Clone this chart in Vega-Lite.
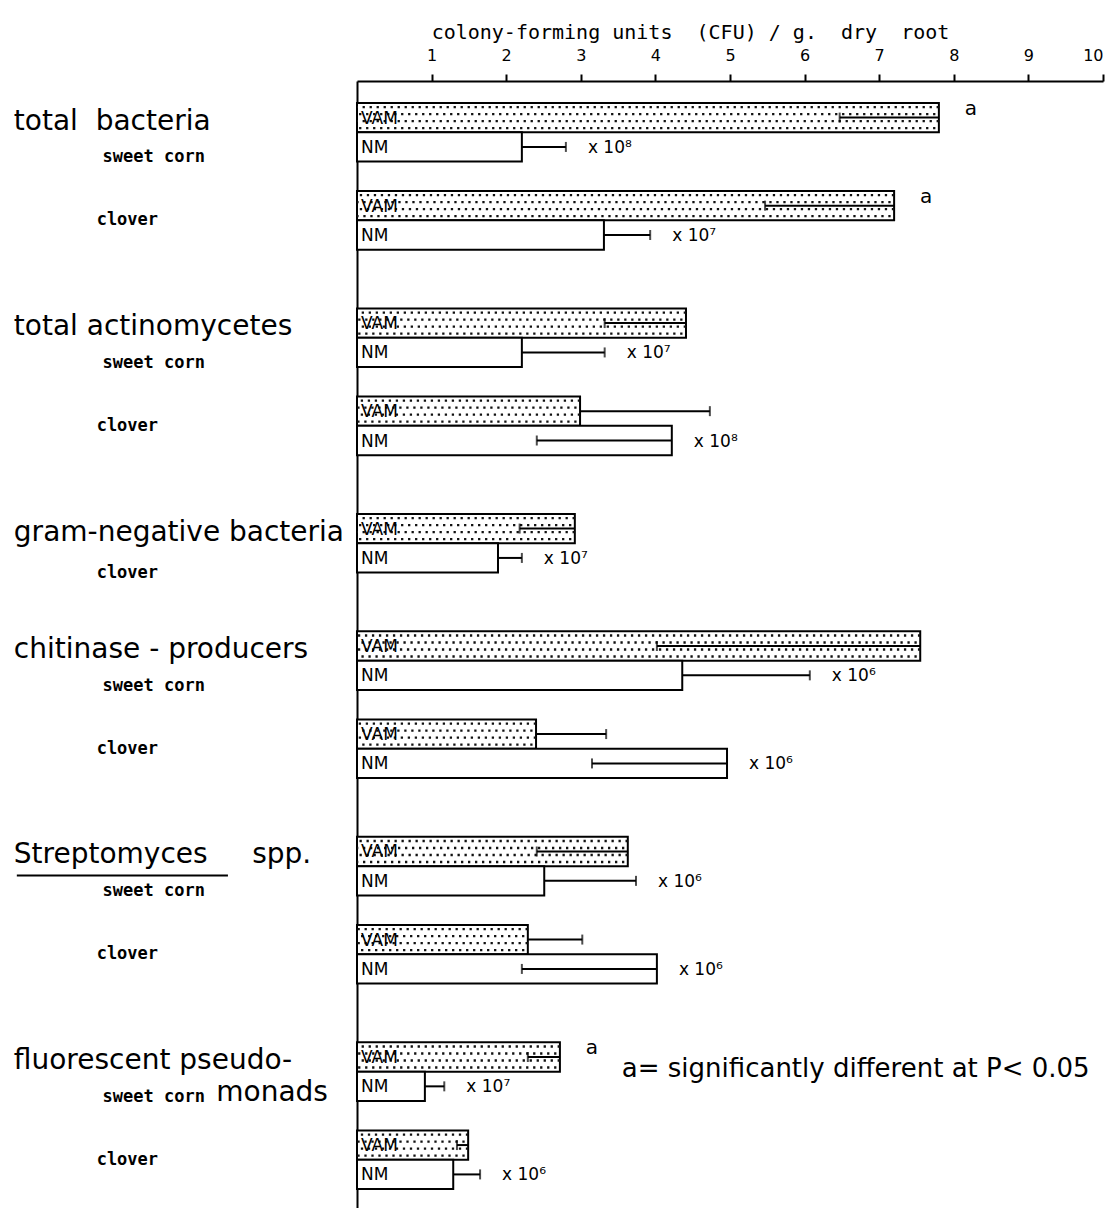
{
  "$schema": "https://vega.github.io/schema/vega-lite/v6.json",
  "width": 746,
  "height": 1130,
  "autosize": {"type": "none"},
  "padding": {"left": 357, "top": 81, "right": 12, "bottom": 0},
  "background": "white",
  "config": {"view": {"stroke": null}, "font": "DejaVu Sans", "text": {"color": "black"}},
  "datasets": {
    "bars": [
      {"key": "TB-SC-VAM", "group": "total bacteria", "crop": "sweet corn", "treatment": "VAM", "value": 7.8, "err": 6.47, "sig": "a", "mult": ""},
      {"key": "TB-SC-NM", "group": "total bacteria", "crop": "sweet corn", "treatment": "NM", "value": 2.21, "err": 2.8, "sig": "", "mult": "x 10⁸"},
      {"key": "TB-CL-VAM", "group": "total bacteria", "crop": "clover", "treatment": "VAM", "value": 7.2, "err": 5.47, "sig": "a", "mult": ""},
      {"key": "TB-CL-NM", "group": "total bacteria", "crop": "clover", "treatment": "NM", "value": 3.31, "err": 3.93, "sig": "", "mult": "x 10⁷"},
      {"key": "TA-SC-VAM", "group": "total actinomycetes", "crop": "sweet corn", "treatment": "VAM", "value": 4.41, "err": 3.32, "sig": "", "mult": ""},
      {"key": "TA-SC-NM", "group": "total actinomycetes", "crop": "sweet corn", "treatment": "NM", "value": 2.21, "err": 3.32, "sig": "", "mult": "x 10⁷"},
      {"key": "TA-CL-VAM", "group": "total actinomycetes", "crop": "clover", "treatment": "VAM", "value": 2.99, "err": 4.73, "sig": "", "mult": ""},
      {"key": "TA-CL-NM", "group": "total actinomycetes", "crop": "clover", "treatment": "NM", "value": 4.22, "err": 2.41, "sig": "", "mult": "x 10⁸"},
      {"key": "GN-CL-VAM", "group": "gram-negative bacteria", "crop": "clover", "treatment": "VAM", "value": 2.92, "err": 2.18, "sig": "", "mult": ""},
      {"key": "GN-CL-NM", "group": "gram-negative bacteria", "crop": "clover", "treatment": "NM", "value": 1.89, "err": 2.21, "sig": "", "mult": "x 10⁷"},
      {"key": "CH-SC-VAM", "group": "chitinase-producers", "crop": "sweet corn", "treatment": "VAM", "value": 7.55, "err": 4.02, "sig": "", "mult": ""},
      {"key": "CH-SC-NM", "group": "chitinase-producers", "crop": "sweet corn", "treatment": "NM", "value": 4.36, "err": 6.07, "sig": "", "mult": "x 10⁶"},
      {"key": "CH-CL-VAM", "group": "chitinase-producers", "crop": "clover", "treatment": "VAM", "value": 2.4, "err": 3.34, "sig": "", "mult": ""},
      {"key": "CH-CL-NM", "group": "chitinase-producers", "crop": "clover", "treatment": "NM", "value": 4.96, "err": 3.15, "sig": "", "mult": "x 10⁶"},
      {"key": "ST-SC-VAM", "group": "Streptomyces spp.", "crop": "sweet corn", "treatment": "VAM", "value": 3.63, "err": 2.41, "sig": "", "mult": ""},
      {"key": "ST-SC-NM", "group": "Streptomyces spp.", "crop": "sweet corn", "treatment": "NM", "value": 2.51, "err": 3.74, "sig": "", "mult": "x 10⁶"},
      {"key": "ST-CL-VAM", "group": "Streptomyces spp.", "crop": "clover", "treatment": "VAM", "value": 2.29, "err": 3.02, "sig": "", "mult": ""},
      {"key": "ST-CL-NM", "group": "Streptomyces spp.", "crop": "clover", "treatment": "NM", "value": 4.02, "err": 2.21, "sig": "", "mult": "x 10⁶"},
      {"key": "FP-SC-VAM", "group": "fluorescent pseudomonads", "crop": "sweet corn", "treatment": "VAM", "value": 2.72, "err": 2.29, "sig": "a", "mult": ""},
      {"key": "FP-SC-NM", "group": "fluorescent pseudomonads", "crop": "sweet corn", "treatment": "NM", "value": 0.91, "err": 1.17, "sig": "", "mult": "x 10⁷"},
      {"key": "FP-CL-VAM", "group": "fluorescent pseudomonads", "crop": "clover", "treatment": "VAM", "value": 1.49, "err": 1.34, "sig": "", "mult": ""},
      {"key": "FP-CL-NM", "group": "fluorescent pseudomonads", "crop": "clover", "treatment": "NM", "value": 1.29, "err": 1.65, "sig": "", "mult": "x 10⁶"}
    ],
    "groups": [
      {"text": "total\u00a0 bacteria", "key": "TB-SC-VAM"},
      {"text": "total actinomycetes", "key": "TA-SC-VAM"},
      {"text": "gram-negative bacteria", "key": "GN-CL-VAM"},
      {"text": "chitinase - producers", "key": "CH-SC-VAM"},
      {"text": "Streptomyces\u00a0\u00a0\u00a0\u00a0 spp.", "key": "ST-SC-VAM"},
      {"text": "fluorescent pseudo-", "key": "FP-SC-VAM"},
      {"text": "monads", "key": "FP-SC-NM"}
    ],
    "crops": [
      {"text": "sweet corn", "key": "TB-SC-NM"},
      {"text": "clover", "key": "TB-CL-VAM"},
      {"text": "sweet corn", "key": "TA-SC-NM"},
      {"text": "clover", "key": "TA-CL-VAM"},
      {"text": "clover", "key": "GN-CL-NM"},
      {"text": "sweet corn", "key": "CH-SC-NM"},
      {"text": "clover", "key": "CH-CL-VAM"},
      {"text": "sweet corn", "key": "ST-SC-NM"},
      {"text": "clover", "key": "ST-CL-VAM"},
      {"text": "sweet corn", "key": "FP-SC-NM"},
      {"text": "clover", "key": "FP-CL-VAM"}
    ]
  },
  "layer": [
    {
      "data": {"name": "bars"},
      "mark": {"type": "bar", "fill": "white", "stroke": "black", "strokeWidth": 2},
      "encoding": {
        "y": {
          "field": "key", "type": "nominal",
          "scale": {
            "domain": ["TB-SC-VAM","TB-SC-NM","g1","TB-CL-VAM","TB-CL-NM","g2","g3","TA-SC-VAM","TA-SC-NM","g4","TA-CL-VAM","TA-CL-NM","g5","g6","GN-CL-VAM","GN-CL-NM","g7","g8","CH-SC-VAM","CH-SC-NM","g9","CH-CL-VAM","CH-CL-NM","g10","g11","ST-SC-VAM","ST-SC-NM","g12","ST-CL-VAM","ST-CL-NM","g13","g14","FP-SC-VAM","FP-SC-NM","g15","FP-CL-VAM","FP-CL-NM"],
            "paddingInner": 0, "paddingOuter": 0.746
          },
          "axis": {"orient": "left", "labels": false, "ticks": false, "title": null, "grid": false, "domain": true, "domainColor": "black", "domainWidth": 2}
        },
        "x": {
          "field": "value", "type": "quantitative",
          "scale": {"domain": [0, 10], "nice": false, "zero": true},
          "axis": {
            "orient": "top", "values": [1,2,3,4,5,6,7,8,9,10], "format": "d", "grid": false,
            "tickSize": 7, "tickWidth": 2, "tickColor": "black",
            "domainColor": "black", "domainWidth": 2,
            "labelFontSize": 16, "labelColor": "black", "labelPadding": 11, "labelFont": "DejaVu Sans",
            "title": "colony-forming units\u00a0\u00a0(CFU) / g.\u00a0\u00a0dry\u00a0\u00a0root",
            "titleFontSize": 20, "titleFontWeight": "normal", "titleColor": "black", "titleFont": "DejaVu Sans Mono",
            "titleX": 333, "titleY": -43, "titleAlign": "center", "titleBaseline": "alphabetic"
          }
        }
      }
    },
    {
      "data": {"name": "bars"},
      "transform": [{"filter": "datum.treatment == 'VAM'"}],
      "mark": {"type": "rule", "color": "#111", "strokeWidth": 2.3, "strokeDash": [2.3, 4.7], "yOffset": -10.5},
      "encoding": {"y": {"field": "key", "type": "nominal"}, "x": {"field": "value", "type": "quantitative"}, "x2": {"datum": 0}}
    },
    {
      "data": {"name": "bars"},
      "transform": [{"filter": "datum.treatment == 'VAM'"}],
      "mark": {"type": "rule", "color": "#111", "strokeWidth": 2.3, "strokeDash": [2.3, 4.7], "strokeDashOffset": 3.5, "yOffset": -3.5},
      "encoding": {"y": {"field": "key", "type": "nominal"}, "x": {"field": "value", "type": "quantitative"}, "x2": {"datum": 0}}
    },
    {
      "data": {"name": "bars"},
      "transform": [{"filter": "datum.treatment == 'VAM'"}],
      "mark": {"type": "rule", "color": "#111", "strokeWidth": 2.3, "strokeDash": [2.3, 4.7], "yOffset": 3.5},
      "encoding": {"y": {"field": "key", "type": "nominal"}, "x": {"field": "value", "type": "quantitative"}, "x2": {"datum": 0}}
    },
    {
      "data": {"name": "bars"},
      "transform": [{"filter": "datum.treatment == 'VAM'"}],
      "mark": {"type": "rule", "color": "#111", "strokeWidth": 2.3, "strokeDash": [2.3, 4.7], "strokeDashOffset": 3.5, "yOffset": 10.5},
      "encoding": {"y": {"field": "key", "type": "nominal"}, "x": {"field": "value", "type": "quantitative"}, "x2": {"datum": 0}}
    },
    {
      "data": {"name": "bars"},
      "mark": {"type": "rule", "color": "black", "strokeWidth": 2},
      "encoding": {"y": {"field": "key", "type": "nominal"}, "x": {"field": "value", "type": "quantitative"}, "x2": {"field": "err"}}
    },
    {
      "data": {"name": "bars"},
      "mark": {"type": "tick", "color": "black", "thickness": 2, "size": 10},
      "encoding": {"y": {"field": "key", "type": "nominal"}, "x": {"field": "err", "type": "quantitative"}}
    },
    {
      "data": {"name": "bars"},
      "mark": {"type": "text", "align": "left", "baseline": "middle", "dx": 4, "dy": 1, "fontSize": 17},
      "encoding": {"y": {"field": "key", "type": "nominal"}, "x": {"datum": 0, "type": "quantitative"}, "text": {"field": "treatment", "type": "nominal"}}
    },
    {
      "data": {"name": "bars"},
      "transform": [{"filter": "datum.sig != ''"}],
      "mark": {"type": "text", "align": "center", "baseline": "middle", "dx": 32, "dy": -9, "fontSize": 20},
      "encoding": {"y": {"field": "key", "type": "nominal"}, "x": {"field": "value", "type": "quantitative"}, "text": {"field": "sig", "type": "nominal"}}
    },
    {
      "data": {"name": "bars"},
      "transform": [{"filter": "datum.mult != '' && datum.err >= datum.value"}],
      "mark": {"type": "text", "align": "left", "baseline": "middle", "dx": 22, "dy": 1, "fontSize": 17},
      "encoding": {"y": {"field": "key", "type": "nominal"}, "x": {"field": "err", "type": "quantitative"}, "text": {"field": "mult", "type": "nominal"}}
    },
    {
      "data": {"name": "bars"},
      "transform": [{"filter": "datum.mult != '' && datum.err < datum.value"}],
      "mark": {"type": "text", "align": "left", "baseline": "middle", "dx": 22, "dy": 1, "fontSize": 17},
      "encoding": {"y": {"field": "key", "type": "nominal"}, "x": {"field": "value", "type": "quantitative"}, "text": {"field": "mult", "type": "nominal"}}
    },
    {
      "data": {"name": "groups"},
      "transform": [{"filter": "datum.text != 'monads'"}],
      "mark": {"type": "text", "align": "left", "baseline": "middle", "dy": 4, "fontSize": 28},
      "encoding": {"y": {"field": "key", "type": "nominal"}, "x": {"datum": -4.6, "type": "quantitative"}, "text": {"field": "text", "type": "nominal"}}
    },
    {
      "data": {"name": "groups"},
      "transform": [{"filter": "datum.text == 'monads'"}],
      "mark": {"type": "text", "align": "right", "baseline": "middle", "dy": 7, "fontSize": 28},
      "encoding": {"y": {"field": "key", "type": "nominal"}, "x": {"datum": -0.39, "type": "quantitative"}, "text": {"field": "text", "type": "nominal"}}
    },
    {
      "data": {"name": "groups"},
      "transform": [{"filter": "indexof(datum.text, 'Streptomyces') == 0"}],
      "mark": {"type": "rule", "color": "black", "strokeWidth": 2, "yOffset": 24},
      "encoding": {"y": {"field": "key", "type": "nominal"}, "x": {"datum": -4.56, "type": "quantitative"}, "x2": {"datum": -1.73}}
    },
    {
      "data": {"name": "crops"},
      "transform": [{"filter": "datum.text == 'sweet corn'"}],
      "mark": {"type": "text", "align": "left", "baseline": "middle", "fontSize": 17, "fontWeight": "bold", "font": "DejaVu Sans Mono"},
      "encoding": {"y": {"field": "key", "type": "nominal", "bandPosition": 0.85}, "x": {"datum": -3.41, "type": "quantitative"}, "text": {"field": "text", "type": "nominal"}}
    },
    {
      "data": {"name": "crops"},
      "transform": [{"filter": "datum.text == 'clover'"}],
      "mark": {"type": "text", "align": "left", "baseline": "middle", "fontSize": 17, "fontWeight": "bold", "font": "DejaVu Sans Mono"},
      "encoding": {"y": {"field": "key", "type": "nominal", "bandPosition": 1}, "x": {"datum": -3.49, "type": "quantitative"}, "text": {"field": "text", "type": "nominal"}}
    },
    {
      "data": {"values": [{"note": "a= significantly different at P< 0.05", "key": "FP-SC-VAM"}]},
      "mark": {"type": "text", "align": "left", "baseline": "middle", "fontSize": 26},
      "encoding": {"y": {"field": "key", "type": "nominal", "bandPosition": 0.9}, "x": {"datum": 3.55, "type": "quantitative"}, "text": {"field": "note", "type": "nominal"}}
    }
  ]
}
